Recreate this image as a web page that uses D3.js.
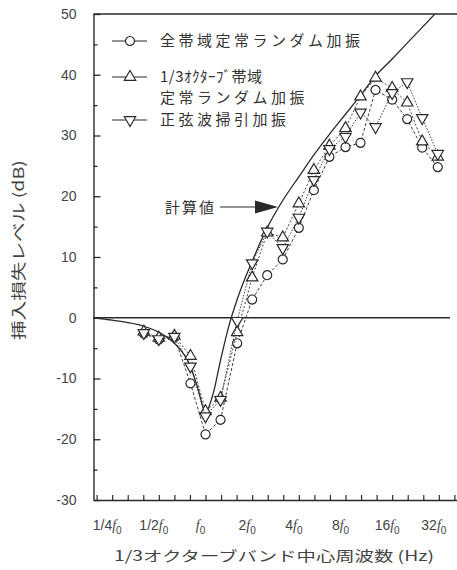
<!DOCTYPE html>
<html><head><meta charset="utf-8">
<script src="https://cdn.jsdelivr.net/npm/d3@7"></script>
<style>
html,body{margin:0;padding:0;background:#fff;}
svg{display:block;}
</style></head>
<body><svg id="c" width="457" height="570"></svg>
<script>
// ---- data ----
const bandRatio = [0.4,0.5,0.63,0.8,1,1.25,1.6,2,2.5,3.15,4,5,6.3,8,10,12.5,16,20,25,31.5];
const fullBand  = [-2.6,-3.6,-3.2,-10.8,-19.2,-16.8,-4.2,3.0,7.0,9.6,14.8,21.0,26.5,28.1,28.8,37.5,35.9,32.7,28.0,24.8];
const thirdOct  = [-2.3,-3.3,-3.0,-6.3,-15.4,-13.2,-2.4,6.6,14.0,13.2,18.8,24.3,28.3,31.2,36.4,39.5,37.8,35.4,29.0,26.5];
const sineSweep = [-2.5,-3.5,-3.1,-8.0,-16.2,-13.5,-0.5,9.0,14.2,11.5,16.5,22.7,27.8,29.8,33.8,31.4,37.0,38.8,32.9,27.0];
const calcRatio = [0.19,0.25,0.315,0.4,0.5,0.63,0.8,0.89,1,1.12,1.25,1.41,1.6,2,2.5,3.15,4,5,6.3,8,10,12.5,16,20,25,31.5];
const calcValue = [0,-0.4,-0.8,-1.4,-2.4,-4.2,-8.0,-11.5,-15.5,-12.5,-7,-1.5,3,9.3,14.8,19.3,23.2,26.8,30.2,33.5,36.6,39.8,42.6,45.2,47.8,50.5];
const yTicks = [-30,-20,-10,0,10,20,30,40,50];
const xLabels = [{r:0.25,n:"1/4"},{r:0.5,n:"1/2"},{r:1,n:""},{r:2,n:"2"},{r:4,n:"4"},{r:8,n:"8"},{r:16,n:"16"},{r:32,n:"32"}];
const legendItems = [
  {sym:"circle", lines:[{t:"全帯域定常ランダム加振",ls:3.5}]},
  {sym:"up", lines:[{t:"1/3ｵｸﾀｰﾌﾞ帯域",ls:0.5},{t:"定常ランダム加振",ls:3.5}]},
  {sym:"down", lines:[{t:"正弦波掃引加振",ls:3.5}]}
];

const svg = d3.select("#c");
const ink = "#2a2a2a";
const x = d3.scaleLog().base(2).domain([Math.pow(2,-2.4), Math.pow(2,5.4)]).range([93.5, 457.5]);
const y = d3.scaleLinear().domain([-30,50]).range([500,14]);

// frame top line
svg.append("line").attr("x1",93.5).attr("x2",457).attr("y1",y(50)).attr("y2",y(50))
  .attr("stroke",ink).attr("stroke-width",1.4);

// y axis
const yMinor = d3.range(-25,50,10);
const yAxis = d3.axisLeft(y).tickValues(yTicks).tickSizeInner(-7).tickSizeOuter(0).tickPadding(17).tickFormat(d=>d);
const gy = svg.append("g").attr("transform","translate(93.5,0)").call(yAxis);
gy.select(".domain").attr("stroke",ink).attr("stroke-width",1.4);
gy.selectAll(".tick line").attr("stroke",ink).attr("stroke-width",1.3);
gy.selectAll(".tick text").attr("font-family","Liberation Sans, Arial, sans-serif").attr("font-size",14).attr("fill","#444");
const yAxisMinor = d3.axisLeft(y).tickValues(yMinor).tickSizeInner(-4).tickSizeOuter(0).tickFormat("");
const gym = svg.append("g").attr("transform","translate(93.5,0)").call(yAxisMinor);
gym.select(".domain").remove();
gym.selectAll(".tick line").attr("stroke",ink).attr("stroke-width",1.3);

// x axis
const xTickVals = d3.range(-7,17).map(i=>Math.pow(2,i/3));
const xAxis = d3.axisBottom(x).tickValues(xTickVals).tickSizeInner(-5).tickSizeOuter(0).tickFormat("");
const gx = svg.append("g").attr("transform","translate(0,500)").call(xAxis);
gx.select(".domain").attr("stroke",ink).attr("stroke-width",1.4);
gx.selectAll(".tick line").attr("stroke",ink).attr("stroke-width",1.2);

// x labels with italic f and subscript 0
const xl = svg.append("g").attr("font-family","Liberation Sans, Arial, sans-serif").attr("font-size",14).attr("fill","#444");
xLabels.forEach(d=>{
  const t = xl.append("text").attr("x", x(d.r)-5).attr("y",530).attr("text-anchor","middle");
  if(d.n) t.append("tspan").text(d.n);
  t.append("tspan").attr("font-style","italic").attr("font-family","Liberation Serif, serif").text("f");
  t.append("tspan").attr("font-size",10).attr("dy",4).text("0");
});

// axis titles
svg.append("text").attr("x",274).attr("y",561).attr("text-anchor","middle")
  .attr("font-family","Noto Sans CJK JP, sans-serif").attr("font-size",14).attr("fill","#444")
  .attr("textLength",320).attr("lengthAdjust","spacingAndGlyphs")
  .text("1/3オクターブバンド中心周波数 (Hz)");
svg.append("text").attr("transform","translate(24,250) rotate(-90)").attr("text-anchor","middle")
  .attr("font-family","Noto Sans CJK JP, sans-serif").attr("font-size",15).attr("fill","#444")
  .attr("textLength",180).attr("lengthAdjust","spacingAndGlyphs")
  .text("挿入損失レベル (dB)");

// zero line
svg.append("line").attr("x1",93.5).attr("x2",450).attr("y1",y(0)).attr("y2",y(0))
  .attr("stroke",ink).attr("stroke-width",1.3);

// plot clip
svg.append("clipPath").attr("id","pc").append("rect").attr("x",93.5).attr("y",y(50)).attr("width",364).attr("height",y(-30)-y(50));

// calc line
const calcLine = d3.line().x((d,i)=>x(calcRatio[i])).y(d=>y(d)).curve(d3.curveMonotoneX);
svg.append("path").attr("clip-path","url(#pc)").attr("d",calcLine(calcValue))
  .attr("fill","none").attr("stroke",ink).attr("stroke-width",1.3);

// series
const sym = {
  circle: d3.symbol().type(d3.symbolCircle).size(64),
  up: d3.symbol().type(d3.symbolTriangle).size(56),
  down: d3.symbol().type(d3.symbolTriangle).size(56)
};
function drawSeries(vals, s, dash){
  const ln = d3.line().x((d,i)=>x(bandRatio[i])).y(d=>y(d));
  svg.append("path").attr("d",ln(vals)).attr("fill","none").attr("stroke",ink)
    .attr("stroke-width",0.9).attr("stroke-dasharray",dash);
  svg.append("g").selectAll("path").data(vals).join("path")
    .attr("transform",(d,i)=>`translate(${x(bandRatio[i])},${y(d)})${s==="down"?" rotate(180)":""}`)
    .attr("d",sym[s]()).attr("fill","#fff").attr("stroke",ink).attr("stroke-width",1.2);
}
drawSeries(fullBand,"circle","3,2");
drawSeries(thirdOct,"up","2,2");
drawSeries(sineSweep,"down","1.5,1.5");

// annotation
svg.append("text").attr("x",165).attr("y",213).attr("font-family","Noto Sans CJK JP, sans-serif")
  .attr("font-size",15).attr("fill","#333").attr("letter-spacing",2).text("計算値");
svg.append("line").attr("x1",220).attr("x2",258).attr("y1",207).attr("y2",207).attr("stroke",ink).attr("stroke-width",1.2);
svg.append("path").attr("d","M255,200.5 L278,207 L255,213.5 Z").attr("fill",ink);

// legend
const lg = svg.append("g");
const rowsY = [41, 77, 98, 120];
let r = 0;
legendItems.forEach(it=>{
  const yy = rowsY[r];
  lg.append("line").attr("x1",112).attr("x2",147).attr("y1",yy).attr("y2",yy).attr("stroke",ink).attr("stroke-width",1.2);
  lg.append("path").attr("transform",`translate(130,${yy})${it.sym==="down"?" rotate(180)":""}`)
    .attr("d",sym[it.sym]()).attr("fill","#fff").attr("stroke",ink).attr("stroke-width",1.2);
  it.lines.forEach(tx=>{
    lg.append("text").attr("x",160).attr("y",rowsY[r]+5).attr("font-family","Noto Sans CJK JP, sans-serif")
      .attr("font-size",15).attr("fill","#333").attr("letter-spacing",tx.ls).text(tx.t);
    r++;
  });
});
</script></body></html>
